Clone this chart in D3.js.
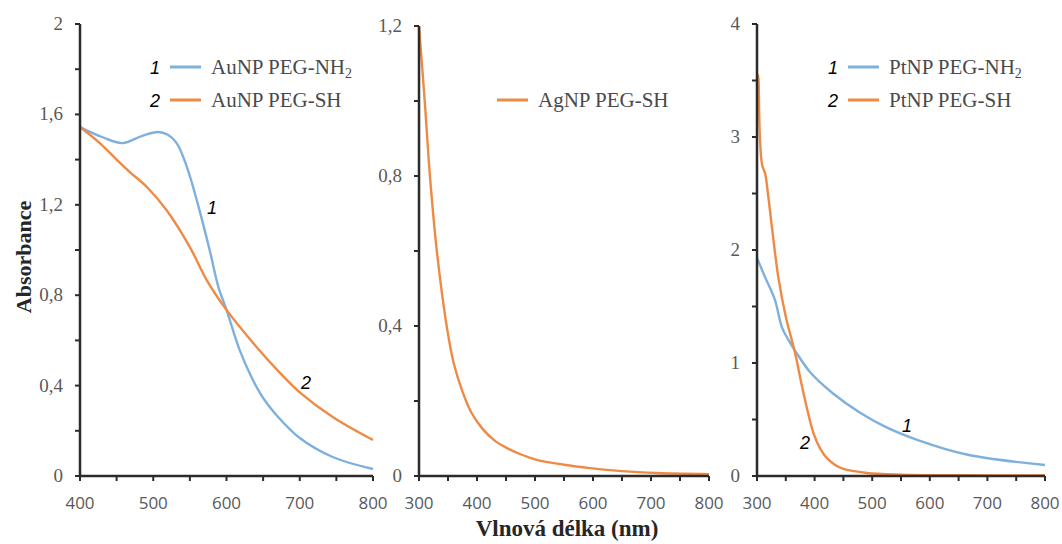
<!DOCTYPE html>
<html>
<head>
<meta charset="utf-8">
<script src="https://cdn.jsdelivr.net/npm/d3@7"></script>
<style>
  body { margin: 0; background: #fff; }
  svg { display: block; }
</style>
</head>
<body>
<svg id="chart" width="1062" height="544"></svg>
<script>
// wavelength (nm), absorbance pairs
const auNH2 = [[400,1.544],[430,1.50],[458,1.473],[485,1.505],[506,1.522],[520,1.51],[532,1.473],[546,1.367],[562,1.19],[577,1.0],[589,0.836],[600,0.735],[618,0.557],[636,0.425],[650,0.345],[668,0.27],[700,0.168],[745,0.084],[800,0.031]];
const auSH = [[400,1.544],[427,1.473],[450,1.40],[468,1.345],[491,1.28],[518,1.177],[550,1.013],[573,0.867],[600,0.735],[641,0.571],[673,0.456],[700,0.37],[745,0.261],[800,0.159]];
const agSH = [[300,1.2],[310,0.997],[319,0.797],[331,0.597],[348,0.397],[360,0.30],[375,0.225],[390,0.17],[410,0.125],[430,0.095],[451,0.075],[475,0.058],[503,0.043],[550,0.03],[595,0.021],[650,0.013],[710,0.008],[800,0.005]];
const ptNH2 = [[300,1.93],[314,1.76],[331,1.56],[343,1.32],[355,1.20],[366,1.11],[392,0.92],[432,0.73],[479,0.56],[525,0.43],[578,0.32],[664,0.19],[800,0.097]];
const ptSH = [[300,3.45],[302,3.55],[305,3.0],[309,2.75],[314,2.68],[319,2.5],[326,2.2],[337,1.76],[350,1.41],[366,1.09],[380,0.75],[398,0.38],[410,0.24],[421,0.16],[435,0.10],[449,0.065],[491,0.027],[550,0.012],[650,0.006],[800,0.004]];

const xTicks1 = [400, 500, 600, 700, 800];
const xTicks23 = [300, 400, 500, 600, 700, 800];
const yTicks1 = [0, 0.4, 0.8, 1.2, 1.6, 2];
const yTicks2 = [0, 0.4, 0.8, 1.2];
const yTicks3 = [0, 1, 2, 3, 4];

const legend1 = ['AuNP PEG-NH', 'AuNP PEG-SH'];
const legend2 = ['AgNP PEG-SH'];
const legend3 = ['PtNP PEG-NH', 'PtNP PEG-SH'];

const blue = '#7eb0de';
const orange = '#ef8a44';
const axisColor = '#2b2b2b';
const tickText = '#595959';

const svg = d3.select('#chart');

const panels = [
  { x0: 80, x1: 373, xDom: [400, 800], xTicks: xTicks1, xMinor: 50,
    yTop: 24, yDom: [0, 2], yTicks: yTicks1, yMinor: 0.2,
    series: [{ d: auNH2, c: blue }, { d: auSH, c: orange }],
    legend: { x: 170, y: 67, names: legend1, nums: true, sub: true },
    labels: [{ t: '1', x: 212, y: 214 }, { t: '2', x: 306, y: 389 }] },
  { x0: 419, x1: 709, xDom: [300, 800], xTicks: xTicks23, xMinor: 50,
    yTop: 26, yDom: [0, 1.2], yTicks: yTicks2, yMinor: 0.2,
    series: [{ d: agSH, c: orange }],
    legend: { x: 497, y: 100, names: legend2, nums: false, sub: false, colors: [orange] },
    labels: [] },
  { x0: 757, x1: 1045, xDom: [300, 800], xTicks: xTicks23, xMinor: 50,
    yTop: 24, yDom: [0, 4], yTicks: yTicks3, yMinor: 0.5,
    series: [{ d: ptNH2, c: blue }, { d: ptSH, c: orange }],
    legend: { x: 848, y: 67, names: legend3, nums: true, sub: true },
    labels: [{ t: '1', x: 907, y: 432 }, { t: '2', x: 805, y: 449 }] }
];

const yBottom = 476;
const fmt = v => String(v).replace('.', ',');

panels.forEach(p => {
  const xs = d3.scaleLinear().domain(p.xDom).range([p.x0, p.x1]);
  const ys = d3.scaleLinear().domain(p.yDom).range([yBottom, p.yTop]);

  const line = d3.line()
    .x(d => xs(d[0]))
    .y(d => ys(d[1]))
    .curve(d3.curveCatmullRom.alpha(0.5));

  p.series.forEach(s => {
    svg.append('path')
      .datum(s.d)
      .attr('fill', 'none')
      .attr('stroke', s.c)
      .attr('stroke-width', 2.4)
      .attr('d', line);
  });

  // axis lines and minor ticks straight from the scales
  const xMinor = d3.range(p.xDom[0], p.xDom[1] + 1, p.xMinor);
  const yMinor = d3.range(p.yDom[0], p.yDom[1] + 1e-9, p.yMinor);
  const ax = svg.append('g').attr('stroke', axisColor);

  ax.append('path')
    .attr('fill', 'none')
    .attr('stroke-width', 2.5)
    .attr('d', `M${xs.range()[0]},${ys.range()[1]}V${ys.range()[0]}H${xs.range()[1]}`);

  ax.selectAll('.xt').data(xMinor).enter().append('line')
    .attr('class', 'xt')
    .attr('x1', d => xs(d)).attr('x2', d => xs(d))
    .attr('y1', yBottom).attr('y2', yBottom + 5)
    .attr('stroke-width', 2);

  ax.selectAll('.yt').data(yMinor).enter().append('line')
    .attr('class', 'yt')
    .attr('x1', p.x0 - 5).attr('x2', p.x0)
    .attr('y1', d => ys(d)).attr('y2', d => ys(d))
    .attr('stroke-width', 2);

  svg.append('g').selectAll('text')
    .data(p.xTicks).enter().append('text')
    .attr('x', d => xs(d))
    .attr('y', 509)
    .attr('text-anchor', 'middle')
    .attr('font-family', '"Open Sans", sans-serif')
    .attr('font-size', 17)
    .attr('fill', tickText)
    .text(d => d);

  svg.append('g').selectAll('text')
    .data(p.yTicks).enter().append('text')
    .attr('x', p.x0 - 17)
    .attr('y', d => ys(d) + 6)
    .attr('text-anchor', 'end')
    .attr('font-family', '"Liberation Serif", serif')
    .attr('font-size', 19)
    .attr('fill', tickText)
    .text(d => fmt(d));

  // legend
  p.legend.names.forEach((name, i) => {
    const ly = p.legend.y + i * 33;
    const col = p.legend.colors ? p.legend.colors[i] : p.series[i].c;
    svg.append('line')
      .attr('x1', p.legend.x).attr('x2', p.legend.x + 31)
      .attr('y1', ly).attr('y2', ly)
      .attr('stroke', col).attr('stroke-width', 3);
    if (p.legend.nums) {
      svg.append('text')
        .attr('x', p.legend.x - 10).attr('y', ly + 7)
        .attr('text-anchor', 'end')
        .attr('font-family', '"Liberation Sans", Arial, sans-serif')
        .attr('font-style', 'italic')
        .attr('font-size', 18)
        .attr('fill', '#000')
        .text(i + 1);
    }
    const t = svg.append('text')
      .attr('x', p.legend.x + 41).attr('y', ly + 7)
      .attr('font-family', '"Liberation Serif", serif')
      .attr('font-size', 21)
      .attr('fill', '#4a4a4a')
      .text(name);
    if (p.legend.sub && i === 0) {
      t.append('tspan').attr('dy', 4).attr('font-size', 14).text('2');
    }
  });

  p.labels.forEach(l => {
    svg.append('text')
      .attr('x', l.x).attr('y', l.y)
      .attr('text-anchor', 'middle')
      .attr('font-family', '"Liberation Sans", Arial, sans-serif')
      .attr('font-style', 'italic')
      .attr('font-size', 18)
      .attr('fill', '#000')
      .text(l.t);
  });
});

svg.append('text')
  .attr('transform', 'translate(31,257) rotate(-90)')
  .attr('text-anchor', 'middle')
  .attr('font-family', '"Liberation Serif", serif')
  .attr('font-weight', 'bold')
  .attr('font-size', 22)
  .attr('fill', '#262626')
  .text('Absorbance');

svg.append('text')
  .attr('x', 567).attr('y', 536)
  .attr('text-anchor', 'middle')
  .attr('font-family', '"Liberation Serif", serif')
  .attr('font-weight', 'bold')
  .attr('font-size', 23)
  .attr('fill', '#262626')
  .text('Vlnová délka (nm)');
</script>
</body>
</html>
